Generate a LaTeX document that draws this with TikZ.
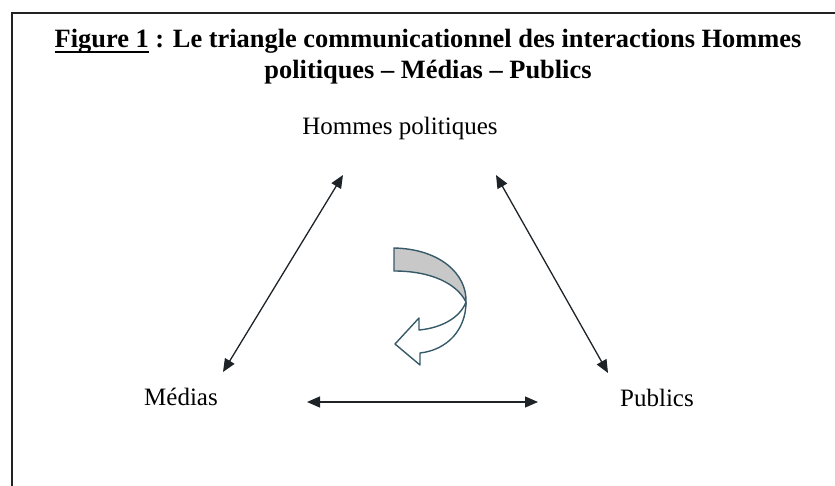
\documentclass[tikz,border=0pt]{standalone}
\usepackage{fontspec}
\setmainfont{Liberation Serif}
\usetikzlibrary{arrows.meta}
\definecolor{shapeline}{RGB}{55,90,105}
\definecolor{bandgray}{RGB}{200,200,200}
\newcommand\figul[1]{\setbox0\hbox{#1}\rlap{\rule[-2.3pt]{\wd0}{0.75pt}}#1}
\begin{document}
\begin{tikzpicture}[x=0.5pt,y=0.5pt,yscale=-1,xscale=1,
  lbl/.style={inner sep=0.75pt,font=\fontsize{12.5}{15}\selectfont},
  ttl/.style={inner sep=0pt,align=center,font=\fontsize{13.2}{15.5}\selectfont\bfseries},
  link/.style={draw={rgb,255:red,30;green,35;blue,40},line width=0.65pt,{Triangle[length=6.5pt,width=5.5pt]}-{Triangle[length=6.5pt,width=5.5pt]}},
  frame/.style={line width=0.8pt,draw={rgb,255:red,35;green,35;blue,35}}]
\useasboundingbox (0,0) rectangle (835,486);
\draw [frame] (12,486) -- (12,13) -- (835,13) ;
\node [ttl,anchor=base] (title) at (428,79) {\figul{Figure 1} : Le triangle communicationnel des interactions Hommes\\politiques – Médias – Publics};
\node [lbl] (hp) at (400,128) {Hommes politiques};
\node [lbl] (med) at (181,397) {Médias};
\node [lbl] (pub) at (657,398) {Publics};
\coordinate (hpL) at (343,175) ;
\coordinate (hpR) at (496,175) ;
\coordinate (medT) at (223,372) ;
\coordinate (medR) at (307,402) ;
\coordinate (pubT) at (608,373) ;
\coordinate (pubL) at (538,402) ;
\draw [link] (hpL) -- (medT) ;
\draw [link] (hpR) -- (pubT) ;
\draw [link] (medR) -- (pubL) ;
\draw [draw=shapeline,fill=bandgray,line width=0.7pt] (394,248) .. controls (440,249) and (467,274) .. (466,302) .. controls (457,284) and (432,271) .. (394,271) -- cycle ;
\draw [draw=shapeline,fill=white,line width=0.7pt,line join=round] (466,302) .. controls (466,330) and (447,350) .. (420,353) -- (420,365) -- (395,344) -- (419,318) -- (419,330) .. controls (441,328) and (460,318) .. (466,302) -- cycle ;
\end{tikzpicture}
\end{document}
